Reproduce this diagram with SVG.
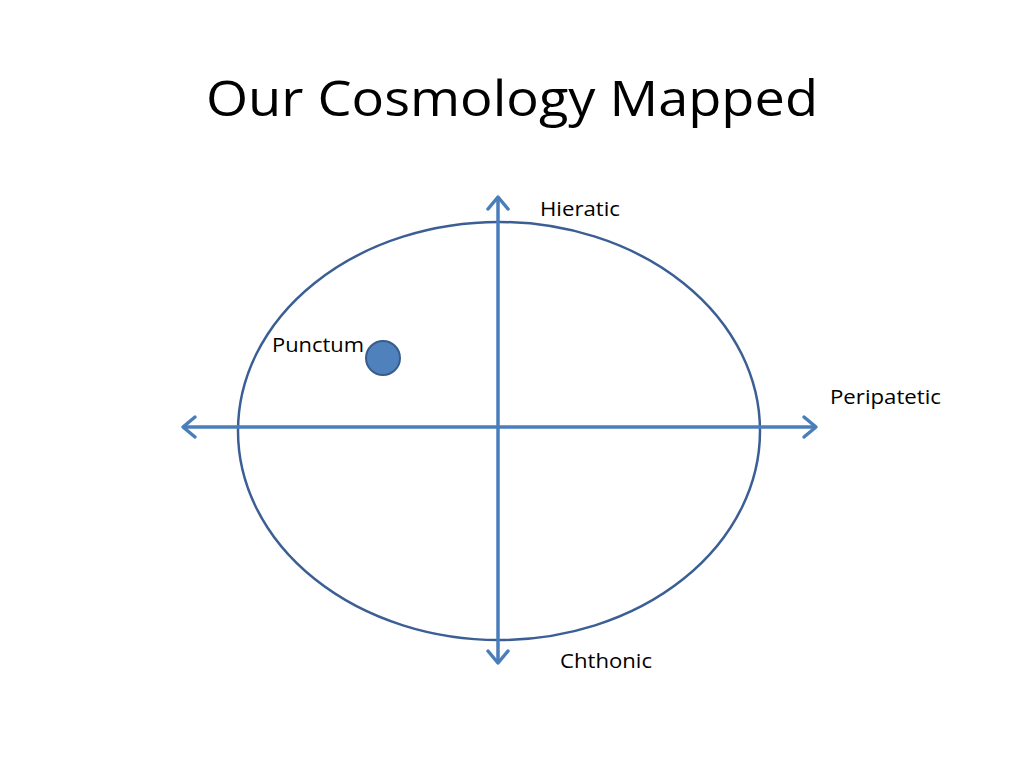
<svg xmlns="http://www.w3.org/2000/svg" width="1024" height="768" viewBox="0 0 1024 768">
<style>
.t{font-family:"Open Sans","Liberation Sans",sans-serif;fill:#000}
.lbl{font-size:20px}
.axis{stroke:#4A7EBB;stroke-width:3.5;fill:none}
.head{stroke:#4A7EBB;stroke-width:3.5;fill:none;stroke-linecap:round;stroke-linejoin:round}
</style>
<rect width="1024" height="768" fill="#fff"/>
<text class="t" x="512" y="116" font-size="50" text-anchor="middle" textLength="612" lengthAdjust="spacingAndGlyphs">Our Cosmology Mapped</text>
<g id="circle">
<ellipse cx="499" cy="431" rx="261" ry="209" fill="none" stroke="#3B5F95" stroke-width="2.5"/>
</g>
<g id="connectors">
<line class="axis" x1="183" y1="427" x2="816" y2="427"/>
<polyline class="head" points="195,417 183,427 195,437"/>
<polyline class="head" points="804,417 816,427 804,437"/>
<line class="axis" x1="498" y1="197" x2="498" y2="663"/>
<polyline class="head" points="488,209 498,197 508,209"/>
<polyline class="head" points="488,651 498,663 508,651"/>
</g>
<g id="punctum">
<circle cx="383" cy="358" r="17" fill="#4F81BD" stroke="#385D8A" stroke-width="2"/>
<text class="t lbl" x="272" y="352" textLength="92" lengthAdjust="spacingAndGlyphs">Punctum</text>
</g>
<g id="hieratic"><text class="t lbl" x="540" y="216" textLength="80" lengthAdjust="spacingAndGlyphs">Hieratic</text></g>
<g id="peripatetic"><text class="t lbl" x="830" y="404" textLength="111" lengthAdjust="spacingAndGlyphs">Peripatetic</text></g>
<g id="chthonic"><text class="t lbl" x="560" y="668" textLength="92" lengthAdjust="spacingAndGlyphs">Chthonic</text></g>
</svg>
